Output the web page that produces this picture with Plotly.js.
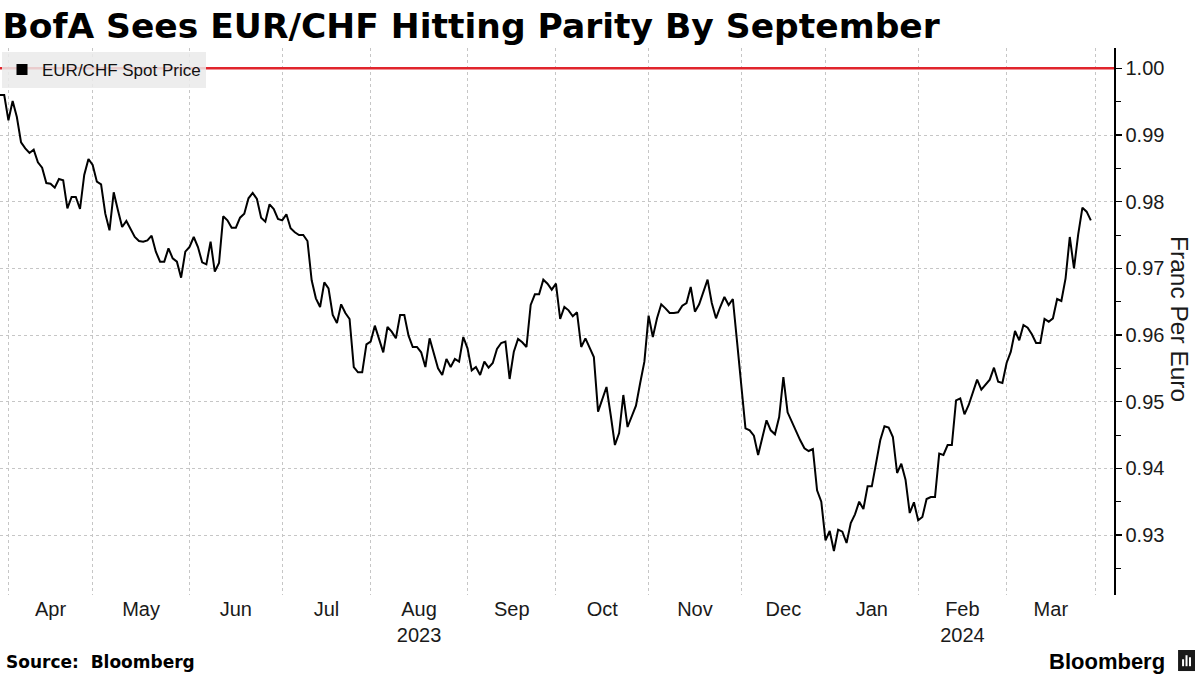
<!DOCTYPE html>
<html>
<head>
<meta charset="utf-8">
<script src="https://cdn.plot.ly/plotly-3.0.1.min.js"></script>
<style>
html,body{margin:0;padding:0;background:#ffffff;}
#chart{width:1200px;height:675px;}
</style>
</head>
<body>
<div id="chart"></div>
<script>
// ---------------- DATA ----------------
const chartTitle = 'BofA Sees EUR/CHF Hitting Parity By September';
const seriesName = 'EUR/CHF Spot Price';
const yAxisTitle = 'Franc Per Euro';
const sourceText = 'Source:  Bloomberg';
const firstDate = '2023-03-30';               // first trading day shown
const marketHolidays = ['2023-12-25', '2024-01-01'];
const parityLevel = 1.00;

// EUR/CHF daily close, one value per trading day from 2023-03-30 to 2024-03-29
const spotPrice = [
  0.9960, 0.9960, 0.9922, 0.9951, 0.9927, 0.9889, 0.9880, 0.9873, 0.9878, 0.9859,
  0.9851, 0.9828, 0.9827, 0.9821, 0.9834, 0.9832, 0.9790, 0.9807, 0.9807, 0.9789,
  0.9840, 0.9864, 0.9855, 0.9830, 0.9826, 0.9782, 0.9757, 0.9814, 0.9787, 0.9762,
  0.9771, 0.9759, 0.9747, 0.9741, 0.9740, 0.9742, 0.9749, 0.9725, 0.9710, 0.9710,
  0.9730, 0.9715, 0.9710, 0.9686, 0.9725, 0.9732, 0.9747, 0.9732, 0.9709, 0.9706,
  0.9740, 0.9695, 0.9708, 0.9778,
  0.9772, 0.9761, 0.9761, 0.9776, 0.9782, 0.9805, 0.9813, 0.9804, 0.9776, 0.9770,
  0.9796, 0.9789, 0.9774, 0.9772, 0.9781, 0.9760, 0.9754, 0.9750, 0.9750, 0.9741,
  0.9682, 0.9655, 0.9642, 0.9679, 0.9670, 0.9630, 0.9618, 0.9646, 0.9633, 0.9624,
  0.9552, 0.9544, 0.9544, 0.9586, 0.9590, 0.9614, 0.9595, 0.9574, 0.9612, 0.9605,
  0.9595, 0.9630, 0.9630, 0.9599, 0.9582, 0.9582, 0.9574, 0.9552, 0.9595, 0.9573,
  0.9550, 0.9540, 0.9564, 0.9552,
  0.9564, 0.9560, 0.9597, 0.9580, 0.9547, 0.9552, 0.9540, 0.9560, 0.9551, 0.9558,
  0.9579, 0.9588, 0.9590, 0.9534, 0.9575, 0.9594, 0.9589, 0.9582, 0.9645, 0.9661,
  0.9661, 0.9683, 0.9677, 0.9668, 0.9677, 0.9624, 0.9642, 0.9637, 0.9628, 0.9634,
  0.9582, 0.9595, 0.9582, 0.9567, 0.9485, 0.9505, 0.9522, 0.9480, 0.9435, 0.9453,
  0.9510, 0.9462, 0.9477, 0.9494, 0.9528, 0.9560, 0.9629, 0.9597, 0.9625, 0.9646,
  0.9640, 0.9633,
  0.9633, 0.9634, 0.9644, 0.9648, 0.9672, 0.9635, 0.9646, 0.9664, 0.9683, 0.9648,
  0.9625, 0.9642, 0.9657, 0.9645, 0.9654, 0.9590, 0.9525, 0.9460, 0.9457, 0.9449,
  0.9420, 0.9447, 0.9472, 0.9457, 0.9451, 0.9477, 0.9537, 0.9484, 0.9470, 0.9455,
  0.9442, 0.9430, 0.9426, 0.9429, 0.9367, 0.9350, 0.9292, 0.9306, 0.9276, 0.9308,
  0.9305, 0.9288, 0.9318, 0.9331, 0.9350, 0.9339, 0.9373, 0.9373, 0.9408, 0.9442,
  0.9463, 0.9461,
  0.9447, 0.9393, 0.9407, 0.9383, 0.9333, 0.9349, 0.9322, 0.9327, 0.9354, 0.9357,
  0.9357, 0.9422, 0.9420, 0.9435, 0.9435, 0.9502, 0.9505, 0.9481, 0.9495, 0.9513,
  0.9533, 0.9518, 0.9526, 0.9533, 0.9551, 0.9530, 0.9528, 0.9558, 0.9575, 0.9606,
  0.9592, 0.9615, 0.9611, 0.9601, 0.9588, 0.9588, 0.9624, 0.9620, 0.9625, 0.9654,
  0.9651, 0.9685, 0.9747, 0.9700, 0.9751, 0.9791, 0.9785, 0.9772
];

// first trading day of each month (month boundaries / gridlines)
const monthStarts = ['2023-04-03','2023-05-01','2023-06-01','2023-07-03','2023-08-01','2023-09-01',
                     '2023-10-02','2023-11-01','2023-12-01','2024-01-02','2024-02-01','2024-03-01','2024-04-01'];
const monthLabels = ['Apr','May','Jun','Jul','Aug<br>2023','Sep','Oct','Nov','Dec','Jan','Feb<br>2024','Mar'];
const yTickValues = [0.93, 0.94, 0.95, 0.96, 0.97, 0.98, 0.99, 1.00];
const xRangeEnd = '2024-04-05 12:00';

// ---------------- BUILD ----------------
function tradingDays(start, count) {
  const out = [];
  const d = new Date(start + 'T00:00:00Z');
  while (out.length < count) {
    const dow = d.getUTCDay();
    const s = d.toISOString().slice(0, 10);
    if (dow !== 0 && dow !== 6 && marketHolidays.indexOf(s) < 0) out.push(s);
    d.setUTCDate(d.getUTCDate() + 1);
  }
  return out;
}
const allDays = tradingDays(firstDate, spotPrice.length + 8);
const dates = allDays.slice(0, spotPrice.length);

// label positions: middle of each month in trading-day space
const labelPos = [];
for (let i = 0; i < monthLabels.length; i++) {
  const a = allDays.indexOf(monthStarts[i]);
  const b = allDays.indexOf(monthStarts[i + 1]);
  const mid = (a + b) / 2;
  const f = Math.floor(mid);
  labelPos.push(mid === f ? allDays[f] : allDays[f] + ' 12:00');
}

const FONT = 'Liberation Sans, Arial, sans-serif';

const traces = [
  {
    x: dates, y: spotPrice, type: 'scatter', mode: 'lines',
    line: {color: '#000000', width: 2}, showlegend: false, name: seriesName,
    hoverinfo: 'x+y'
  },
  {
    x: [null], y: [null], type: 'scatter', mode: 'markers',
    marker: {symbol: 'square', size: 11, color: '#000000'},
    name: seriesName, showlegend: true, hoverinfo: 'skip'
  }
];

const layout = {
  width: 1200, height: 675,
  paper_bgcolor: '#ffffff', plot_bgcolor: '#ffffff',
  margin: {l: 0, r: 86, t: 48, b: 80},
  font: {family: FONT, color: '#1a1a1a', size: 20},
  title: {
    text: '<b>' + chartTitle + '</b>',
    x: 0.002, xanchor: 'left', xref: 'container',
    y: 0.962, yanchor: 'middle', yref: 'container',
    font: {family: 'DejaVu Sans, sans-serif', size: 34.5, color: '#000000'}
  },
  showlegend: true,
  legend: {
    x: 0.0018, y: 0.993, xanchor: 'left', yanchor: 'top',
    bgcolor: 'rgba(234,234,234,0.85)', borderwidth: 0,
    font: {family: FONT, size: 17, color: '#111111'},
    itemwidth: 30, tracegroupgap: 0
  },
  xaxis: {
    type: 'date',
    range: [firstDate, xRangeEnd],
    rangebreaks: [{bounds: ['sat', 'mon']}, {values: marketHolidays}],
    tickmode: 'array', tickvals: labelPos, ticktext: monthLabels,
    ticks: '', showgrid: false, showline: false, zeroline: false,
    tickfont: {family: FONT, size: 20, color: '#1a1a1a'},
    minor: {
      tickmode: 'array', tickvals: monthStarts, ticks: '',
      showgrid: true, gridcolor: '#c6c6c6', gridwidth: 1, griddash: 'dot'
    },
    fixedrange: true
  },
  yaxis: {
    side: 'right',
    range: [0.921, 1.00305],
    tickmode: 'array', tickvals: yTickValues, tickformat: '.2f',
    showgrid: true, gridcolor: '#c6c6c6', gridwidth: 1, griddash: 'dot',
    showline: true, linecolor: '#000000', linewidth: 1.5,
    ticks: 'outside', ticklen: 6, tickwidth: 1.5, tickcolor: '#000000',
    minor: {dtick: 0.005, ticks: 'outside', ticklen: 5, tickcolor: '#000000', tickwidth: 1, showgrid: false},
    zeroline: false,
    tickfont: {family: FONT, size: 20, color: '#1a1a1a'},
    fixedrange: true
  },
  shapes: [
    {type: 'line', xref: 'paper', x0: 0, x1: 1, yref: 'y', y0: parityLevel, y1: parityLevel,
     line: {color: '#e1252c', width: 2.5}, layer: 'above'},
    // Bloomberg logo mark
    {type: 'rect', xref: 'paper', yref: 'paper', x0: 1.0575, x1: 1.0727, y0: -0.139, y1: -0.1005,
     fillcolor: '#1a1a1a', line: {width: 0}},
    {type: 'rect', xref: 'paper', yref: 'paper', x0: 1.0611, x1: 1.0629, y0: -0.1302, y1: -0.1175,
     fillcolor: '#ffffff', line: {width: 0}},
    {type: 'rect', xref: 'paper', yref: 'paper', x0: 1.0642, x1: 1.0660, y0: -0.1302, y1: -0.1101,
     fillcolor: '#ffffff', line: {width: 0}},
    {type: 'rect', xref: 'paper', yref: 'paper', x0: 1.0673, x1: 1.0691, y0: -0.1302, y1: -0.1138,
     fillcolor: '#ffffff', line: {width: 0}}
  ],
  annotations: [
    {text: yAxisTitle, xref: 'paper', yref: 'paper', x: 1.059, y: 0.505,
     xanchor: 'center', yanchor: 'middle', textangle: 90, showarrow: false,
     font: {family: FONT, size: 24.5, color: '#1a1a1a'}},
    {text: '<b>' + sourceText + '</b>', xref: 'paper', yref: 'paper', x: 0.004, y: -0.1225,
     xanchor: 'left', yanchor: 'middle', showarrow: false,
     font: {family: 'DejaVu Sans, sans-serif', size: 17, color: '#000000'}},
    {text: '<b>Bloomberg</b>', xref: 'paper', yref: 'paper', x: 1.0476, y: -0.121,
     xanchor: 'right', yanchor: 'middle', showarrow: false,
     font: {family: FONT, size: 22, color: '#000000'}}
  ]
};

Plotly.newPlot('chart', traces, layout, {displayModeBar: false, staticPlot: true});
</script>
</body>
</html>
